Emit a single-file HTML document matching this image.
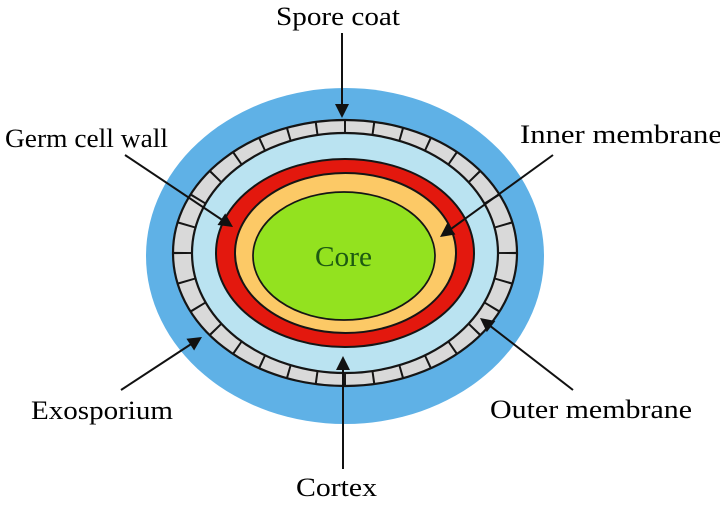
<!DOCTYPE html>
<html>
<head>
<meta charset="utf-8">
<style>
  html, body { margin: 0; padding: 0; background: #ffffff; }
  svg { display: block; }
  text { font-family: "Liberation Serif", "DejaVu Serif", serif; font-size: 26px; fill: #000; }
</style>
</head>
<body>
<svg width="720" height="512" viewBox="0 0 720 512" xmlns="http://www.w3.org/2000/svg">
  <defs>
    <clipPath id="outerclip">
      <ellipse cx="345" cy="253" rx="172" ry="133"/>
    </clipPath>
  </defs>
  <rect x="0" y="0" width="720" height="512" fill="#ffffff"/>

  <!-- Exosporium -->
  <ellipse cx="345" cy="256" rx="199" ry="168" fill="#5fb1e6"/>

  <!-- Spore coat ring -->
  <ellipse cx="345" cy="253" rx="172" ry="133" fill="#d9d9d9"/>
  <path d="M 507.5 253 A 162.5 126.5 0 0 1 182.5 253 A 162.5 126.5 0 0 1 507.5 253 Z"
        fill="none" stroke="#151515" stroke-width="28" pathLength="320"
        stroke-dasharray="0.7 9.3" stroke-dashoffset="0.35" clip-path="url(#outerclip)"/>
  <ellipse cx="345" cy="253" rx="172" ry="133" fill="none" stroke="#151515" stroke-width="2.2"/>

  <!-- Cortex -->
  <ellipse cx="345" cy="253" rx="153" ry="120" fill="#bae3f1" stroke="#151515" stroke-width="2.2"/>

  <!-- Germ cell wall (red) -->
  <ellipse cx="345" cy="253" rx="129" ry="94" fill="#e3180e" stroke="#151515" stroke-width="2"/>

  <!-- Inner membrane (yellow) -->
  <ellipse cx="345.5" cy="253" rx="110.5" ry="80" fill="#fcc966" stroke="#151515" stroke-width="2"/>

  <!-- Core -->
  <ellipse cx="344" cy="256" rx="91" ry="64" fill="#93e21f" stroke="#151515" stroke-width="1.7"/>

  <!-- Arrows -->
  <g stroke="#111" stroke-width="2" fill="none" stroke-linecap="butt">
    <line x1="342" y1="33" x2="342" y2="106"/>
    <line x1="125" y1="155" x2="223" y2="220.5"/>
    <line x1="553" y1="155" x2="450" y2="229.7"/>
    <line x1="121" y1="390" x2="192" y2="343.5"/>
    <line x1="573" y1="390" x2="489.5" y2="325.4"/>
    <line x1="343" y1="469" x2="343" y2="368"/>
  </g>
  <g fill="#111">
    <polygon points="342,118 335,104 349,104"/>
    <polygon points="233,227 217.47,225.05 225.24,213.41"/>
    <polygon points="440,237 447.22,223.11 455.44,234.45"/>
    <polygon points="202,337 194.11,350.53 186.45,338.81"/>
    <polygon points="480,318 495.36,321.03 486.79,332.11"/>
    <polygon points="343,356 336,370 350,370"/>
  </g>

  <!-- Labels -->
  <text x="276" y="25" textLength="124" lengthAdjust="spacingAndGlyphs">Spore coat</text>
  <text x="5" y="147" textLength="163" lengthAdjust="spacingAndGlyphs">Germ cell wall</text>
  <text x="520" y="143" textLength="202" lengthAdjust="spacingAndGlyphs">Inner membrane</text>
  <text x="315" y="266" textLength="57" lengthAdjust="spacingAndGlyphs" style="fill:#1d5a12;font-size:28px">Core</text>
  <text x="31" y="419" textLength="142" lengthAdjust="spacingAndGlyphs">Exosporium</text>
  <text x="490" y="418" textLength="202" lengthAdjust="spacingAndGlyphs">Outer membrane</text>
  <text x="296" y="496" textLength="81" lengthAdjust="spacingAndGlyphs">Cortex</text>
</svg>
</body>
</html>
